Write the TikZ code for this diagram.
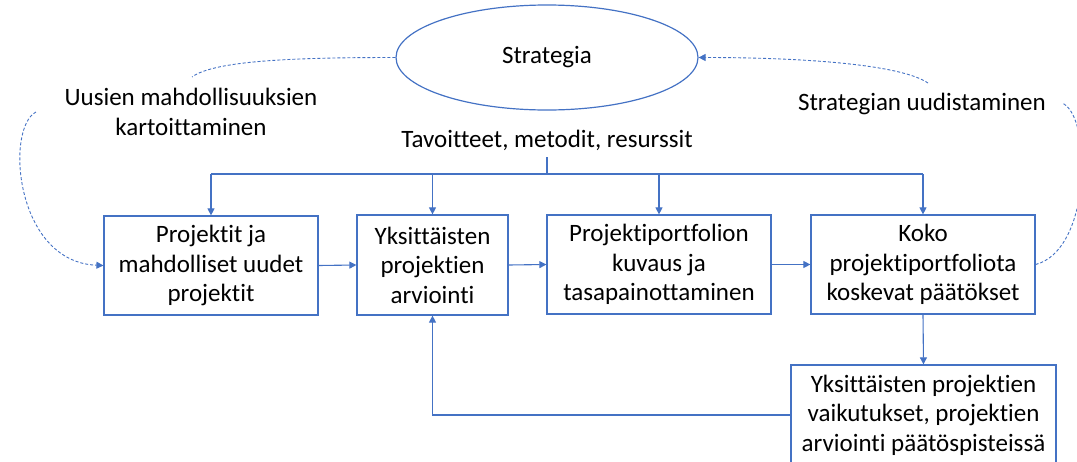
\documentclass[tikz,border=0pt]{standalone}
\usepackage{fontspec}
\setmainfont{Carlito}[Ligatures=NoCommon]
\usetikzlibrary{arrows.meta,shapes.geometric}
\definecolor{flowblue}{HTML}{4472C4}
\tikzset{
  box/.style={draw=flowblue, line width=1.2pt, align=center, inner sep=0pt,
    font=\fontsize{25}{29.5}\selectfont},
  lbl/.style={align=center, inner sep=0pt, font=\fontsize{25}{29.5}\selectfont},
  flow/.style={draw=flowblue, line width=1.1pt, -{Triangle[length=7pt,width=7pt]}},
  plain/.style={draw=flowblue, line width=1.1pt},
  loop/.style={draw=flowblue, line width=0.9pt, dash pattern=on 3pt off 2pt},
  looparrow/.style={loop, -{Triangle[length=7pt,width=7pt]}}
}
\begin{document}
\begin{tikzpicture}[x=1pt,y=-1pt]
\useasboundingbox (0,0) rectangle (1077,461);

% strategy ellipse and its outputs
\node[ellipse, draw=flowblue, line width=1.2pt, minimum width=302pt, minimum height=105pt,
  inner sep=0pt, font=\fontsize{25}{29.5}\selectfont] (strat) at (547,57.5) {Strategia};
\node[lbl] (goals) at (547,140) {Tavoitteet, metodit, resurssit};

% process boxes
\node[box, minimum width=214pt, minimum height=99pt] (b1) at (211,265.5)
  {Projektit ja\\mahdolliset uudet\\projektit};
\node[box, minimum width=151pt, minimum height=100pt] (b2) at (432.5,265)
  {Yksittäisten\\projektien\\arviointi};
\node[box, minimum width=224pt, minimum height=99pt] (b3) at (659,264.5)
  {Projektiportfolion\\kuvaus ja\\tasapainottaminen};
\node[box, minimum width=224pt, minimum height=99pt] (b4) at (923,264.5)
  {Koko\\projektiportfoliota\\koskevat päätökset};
\node[box, minimum width=265pt, minimum height=100pt] (b5) at (923.5,415)
  {Yksittäisten projektien\\vaikutukset, projektien\\arviointi päätöspisteissä};

% loop labels
\node[lbl] (scan) at (191,112) {Uusien mahdollisuuksien\\kartoittaminen};
\node[lbl] (renew) at (922,104) {Strategian uudistaminen};

% distribution bus from the goals
\coordinate (busL) at (211,174);
\coordinate (busR) at (923,174);
\coordinate (busM) at (547,174);
\draw[plain] (goals.south |- 0,157) -- (busM);
\draw[plain] (busL) -- (busR);
\draw[flow] (busL) -- (b1.north);
\draw[flow] (432.5,174) -- (b2.north);
\draw[flow] (659,174) -- (b3.north);
\draw[flow] (busR) -- (b4.north);

% main chain
\draw[flow] (b1.east) -- (b2.west);
\draw[flow] (b2.east) -- (b3.west);
\draw[flow] (b3.east) -- (b4.west);
\draw[flow] (b4.south) -- (b5.north);

% feedback to evaluation
\coordinate (fbCorner) at (432.5,415);
\draw[flow] (b5.west) -- (fbCorner) -- (b2.south);

% dashed loops
\coordinate (scanA) at (192,77);
\coordinate (scanB) at (36,112);
\draw[loop] (strat.west) .. controls (300,57.5) and (215,60) .. (scanA);
\draw[looparrow] (scanB) .. controls (5,128) and (15,262) .. (b1.west);
\coordinate (renewA) at (928,83);
\coordinate (renewB) at (1062,103);
\draw[looparrow] (renewA) .. controls (900,64) and (800,57.5) .. (strat.east);
\draw[loop] (b4.east) .. controls (1092,250) and (1092,115) .. (renewB);
\end{tikzpicture}
\end{document}
